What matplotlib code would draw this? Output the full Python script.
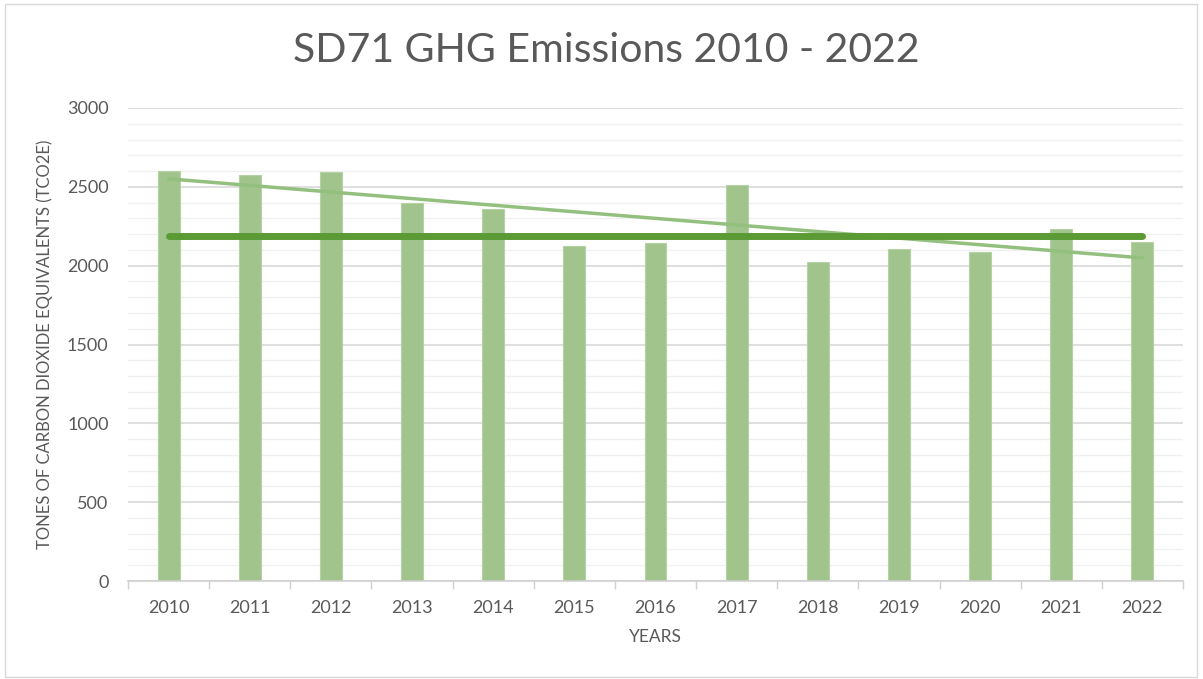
import matplotlib
matplotlib.use("Agg")
import matplotlib.pyplot as plt
from matplotlib.patches import Rectangle
from matplotlib.ticker import MultipleLocator
import numpy as np

# values
years = ["2010", "2011", "2012", "2013", "2014", "2015", "2016",
         "2017", "2018", "2019", "2020", "2021", "2022"]
emissions = [2600, 2575, 2594, 2397, 2359, 2124, 2143,
             2511, 2023, 2105, 2086, 2232, 2150]
reference_level = 2188

plt.rcParams['font.family'] = ['Lato', 'DejaVu Sans']

fig = plt.figure(figsize=(12.03, 6.79), dpi=100)
ax = fig.add_axes([128 / 1203, 1 - 581 / 679, 1055 / 1203, 473 / 679])

x = np.arange(len(years))
ax.bar(x, emissions, width=0.27, color='#a1c48d', edgecolor='#b4d2a2',
       linewidth=0.8, zorder=2)

# linear trendline across the bars
slope, intercept = np.polyfit(x, emissions, 1)
ax.plot(x[[0, -1]], intercept + slope * x[[0, -1]], color='#93c07e',
        linewidth=2.5, solid_capstyle='round', zorder=3)

# flat reference line
ax.plot(x[[0, -1]], [reference_level, reference_level], color='#5b9a35',
        linewidth=5, solid_capstyle='round', zorder=4)

ax.set_xlim(-0.5, len(years) - 0.5)
ax.set_ylim(0, 3000)
ax.yaxis.set_major_locator(MultipleLocator(500))
ax.yaxis.set_minor_locator(MultipleLocator(100))
ax.grid(axis='y', which='major', color='#d9d9d9', linewidth=1.2, zorder=0)
ax.grid(axis='y', which='minor', color='#f0f0f0', linewidth=1.0, zorder=0)
ax.set_axisbelow(True)

ax.set_xticks(x)
ax.set_xticklabels(years)
ax.set_xticks(np.arange(-0.5, len(years)), minor=True)
ax.tick_params(axis='x', which='major', length=0, pad=14, labelsize=13,
               labelcolor='#595959')
ax.tick_params(axis='x', which='minor', length=6, color='#d0d0d0', width=1)
ax.tick_params(axis='y', which='both', length=0, pad=14, labelsize=13,
               labelcolor='#595959')

for side in ['top', 'right', 'left']:
    ax.spines[side].set_visible(False)
ax.spines['bottom'].set_color('#d0d0d0')
ax.spines['bottom'].set_linewidth(1.2)

ax.set_xlabel('YEARS', fontsize=12.5, color='#595959', labelpad=9)
ax.set_ylabel('TONES OF CARBON DIOXIDE EQUIVALENTS (TCO2E)', fontsize=12,
              color='#595959', labelpad=10)

fig.text(606 / 1203, 1 - 50 / 679, 'SD71 GHG Emissions 2010 - 2022',
         ha='center', va='center', fontsize=29.5, color='#595959')

# chart area border
fig.patches.append(Rectangle((5 / 1203, 2 / 679), 1192 / 1203, 673 / 679,
                             transform=fig.transFigure, fill=False,
                             edgecolor='#d9d9d9', linewidth=1))

fig.savefig('out.png', dpi=100, facecolor='white')
